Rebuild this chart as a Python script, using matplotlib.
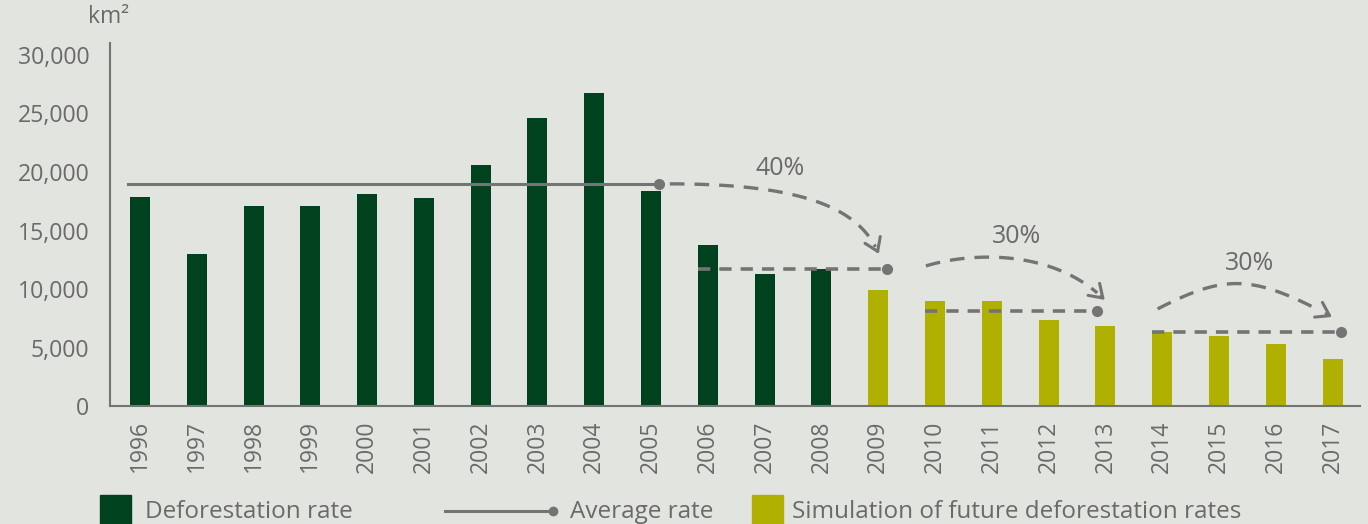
import numpy as np
import matplotlib
matplotlib.use("Agg")
import matplotlib.pyplot as plt
from matplotlib.patches import Rectangle
from matplotlib.lines import Line2D

plt.rcParams['font.family'] = ['Open Sans', 'DejaVu Sans']

YEARS = [str(y) for y in range(1996, 2018)]
OBSERVED = [17900, 13000, 17100, 17100, 18100, 17800, 20600, 24600, 26750,
            18400, 13800, 11300, 11750]
SIMULATED = [9950, 9000, 9000, 7400, 6850, 6350, 6000, 5350, 4050]

# average / target levels: (first year, last year, value)
LEVELS = [("1996", "2005", 19000),
          ("2006", "2009", 11750),
          ("2010", "2013", 8150),
          ("2014", "2017", 6350)]
REDUCTIONS = ["40%", "30%", "30%"]

DARK = "#00421e"
OLIVE = "#b0b000"
GRAY = "#747474"
TXT = "#6a6a6a"
BG = "#e2e4df"

fig = plt.figure(figsize=(13.68, 5.24), dpi=100, facecolor=BG)
ax = fig.add_axes([0.0804, 0.2243, 0.994 - 0.0804, 0.918 - 0.2243])
ax.set_facecolor(BG)

x = np.arange(len(YEARS))
n_obs = len(OBSERVED)
w = 0.352
ax.bar(x[:n_obs], OBSERVED, width=w, color=DARK, zorder=2)
ax.bar(x[n_obs:], SIMULATED, width=w, color=OLIVE, zorder=2)

# level lines
for k, (y0, y1, val) in enumerate(LEVELS):
    i0 = YEARS.index(y0) - w / 2
    i1 = YEARS.index(y1) + w / 2 - 0.03
    if k == 0:
        i0 -= 0.04
        ax.plot([i0, i1], [val, val], color=GRAY, lw=2.2, zorder=3)
    else:
        if k == 2:
            i1 -= 0.3
        ax.plot([i0, i1], [val, val], color=GRAY, lw=2.6, zorder=3,
                dashes=(3.4, 2.5))
    ax.plot([i1], [val], 'o', color=GRAY, ms=7, zorder=4)


def bezier(p0, p1, p2, p3, n=80):
    t = np.linspace(0, 1, n)[:, None]
    p0, p1, p2, p3 = map(np.asarray, (p0, p1, p2, p3))
    return (1 - t) ** 3 * p0 + 3 * (1 - t) ** 2 * t * p1 + 3 * (1 - t) * t ** 2 * p2 + t ** 3 * p3


# curved reduction arrows (control points in data units)
arcs = [((9.33, 18984), (11.58, 18984), (12.66, 17107), (13.01, 13012)),
        ((13.84, 11988), (14.72, 13267), (16.13, 13267), (16.99, 9087)),
        ((17.92, 8319), (19.12, 11305), (19.58, 11305), (20.99, 7636))]
label_pos = [(11.27, 20265), (15.44, 14460), (19.54, 12160)]

for ctrl, lab, (lx, ly) in zip(arcs, REDUCTIONS, label_pos):
    c = bezier(*ctrl)
    ax.plot(c[:-4, 0], c[:-4, 1], color=GRAY, lw=2.4, dashes=(4.4, 3.0), zorder=3)
    ax.annotate('', xy=c[-1], xytext=c[-3],
                arrowprops=dict(arrowstyle='->,head_length=0.45,head_width=0.3',
                                color=GRAY, lw=2.2, shrinkA=0, shrinkB=0,
                                mutation_scale=20), zorder=3)
    ax.text(lx, ly, lab, color=TXT, fontsize=18, ha='center', va='center')

ax.set_xlim(-0.528, 21.48)
ax.set_ylim(0, 31000)
ax.set_xticks(x)
ax.set_xticklabels(YEARS, rotation=90, fontsize=16.5, color=TXT)
ax.set_yticks(range(0, 30001, 5000))
ax.set_yticklabels([f"{v:,}" for v in range(0, 30001, 5000)], fontsize=16.7, color=TXT)
ax.tick_params(axis='y', length=0, pad=15)
ax.tick_params(axis='x', length=0, pad=10)
for s in ['top', 'right']:
    ax.spines[s].set_visible(False)
for s in ['left', 'bottom']:
    ax.spines[s].set_color(GRAY)
    ax.spines[s].set_linewidth(1.5)

fig.text(109 / 1368, 1 - 17 / 524, "km²", color=TXT, fontsize=16.5,
         ha='center', va='center')

# legend at the bottom
ly = (524 - 512) / 524
fs = 17.5
fig.add_artist(Rectangle((100 / 1368, ly - 17 / 524), 31 / 1368, 34 / 524,
                         transform=fig.transFigure, color=DARK))
fig.text(145 / 1368, ly, "Deforestation rate", color=TXT, fontsize=fs, va='center')
fig.add_artist(Line2D([445 / 1368, 553 / 1368], [ly + 1 / 524, ly + 1 / 524],
                      transform=fig.transFigure, color=GRAY, lw=2.2))
fig.add_artist(Line2D([553 / 1368], [ly + 1 / 524], marker='o', ms=6,
                      transform=fig.transFigure, color=GRAY))
fig.text(570 / 1368, ly, "Average rate", color=TXT, fontsize=fs, va='center')
fig.add_artist(Rectangle((752 / 1368, ly - 17 / 524), 31 / 1368, 34 / 524,
                         transform=fig.transFigure, color=OLIVE))
fig.text(792 / 1368, ly, "Simulation of future deforestation rates", color=TXT,
         fontsize=fs, va='center')

fig.savefig("out.png", dpi=100, facecolor=BG)
